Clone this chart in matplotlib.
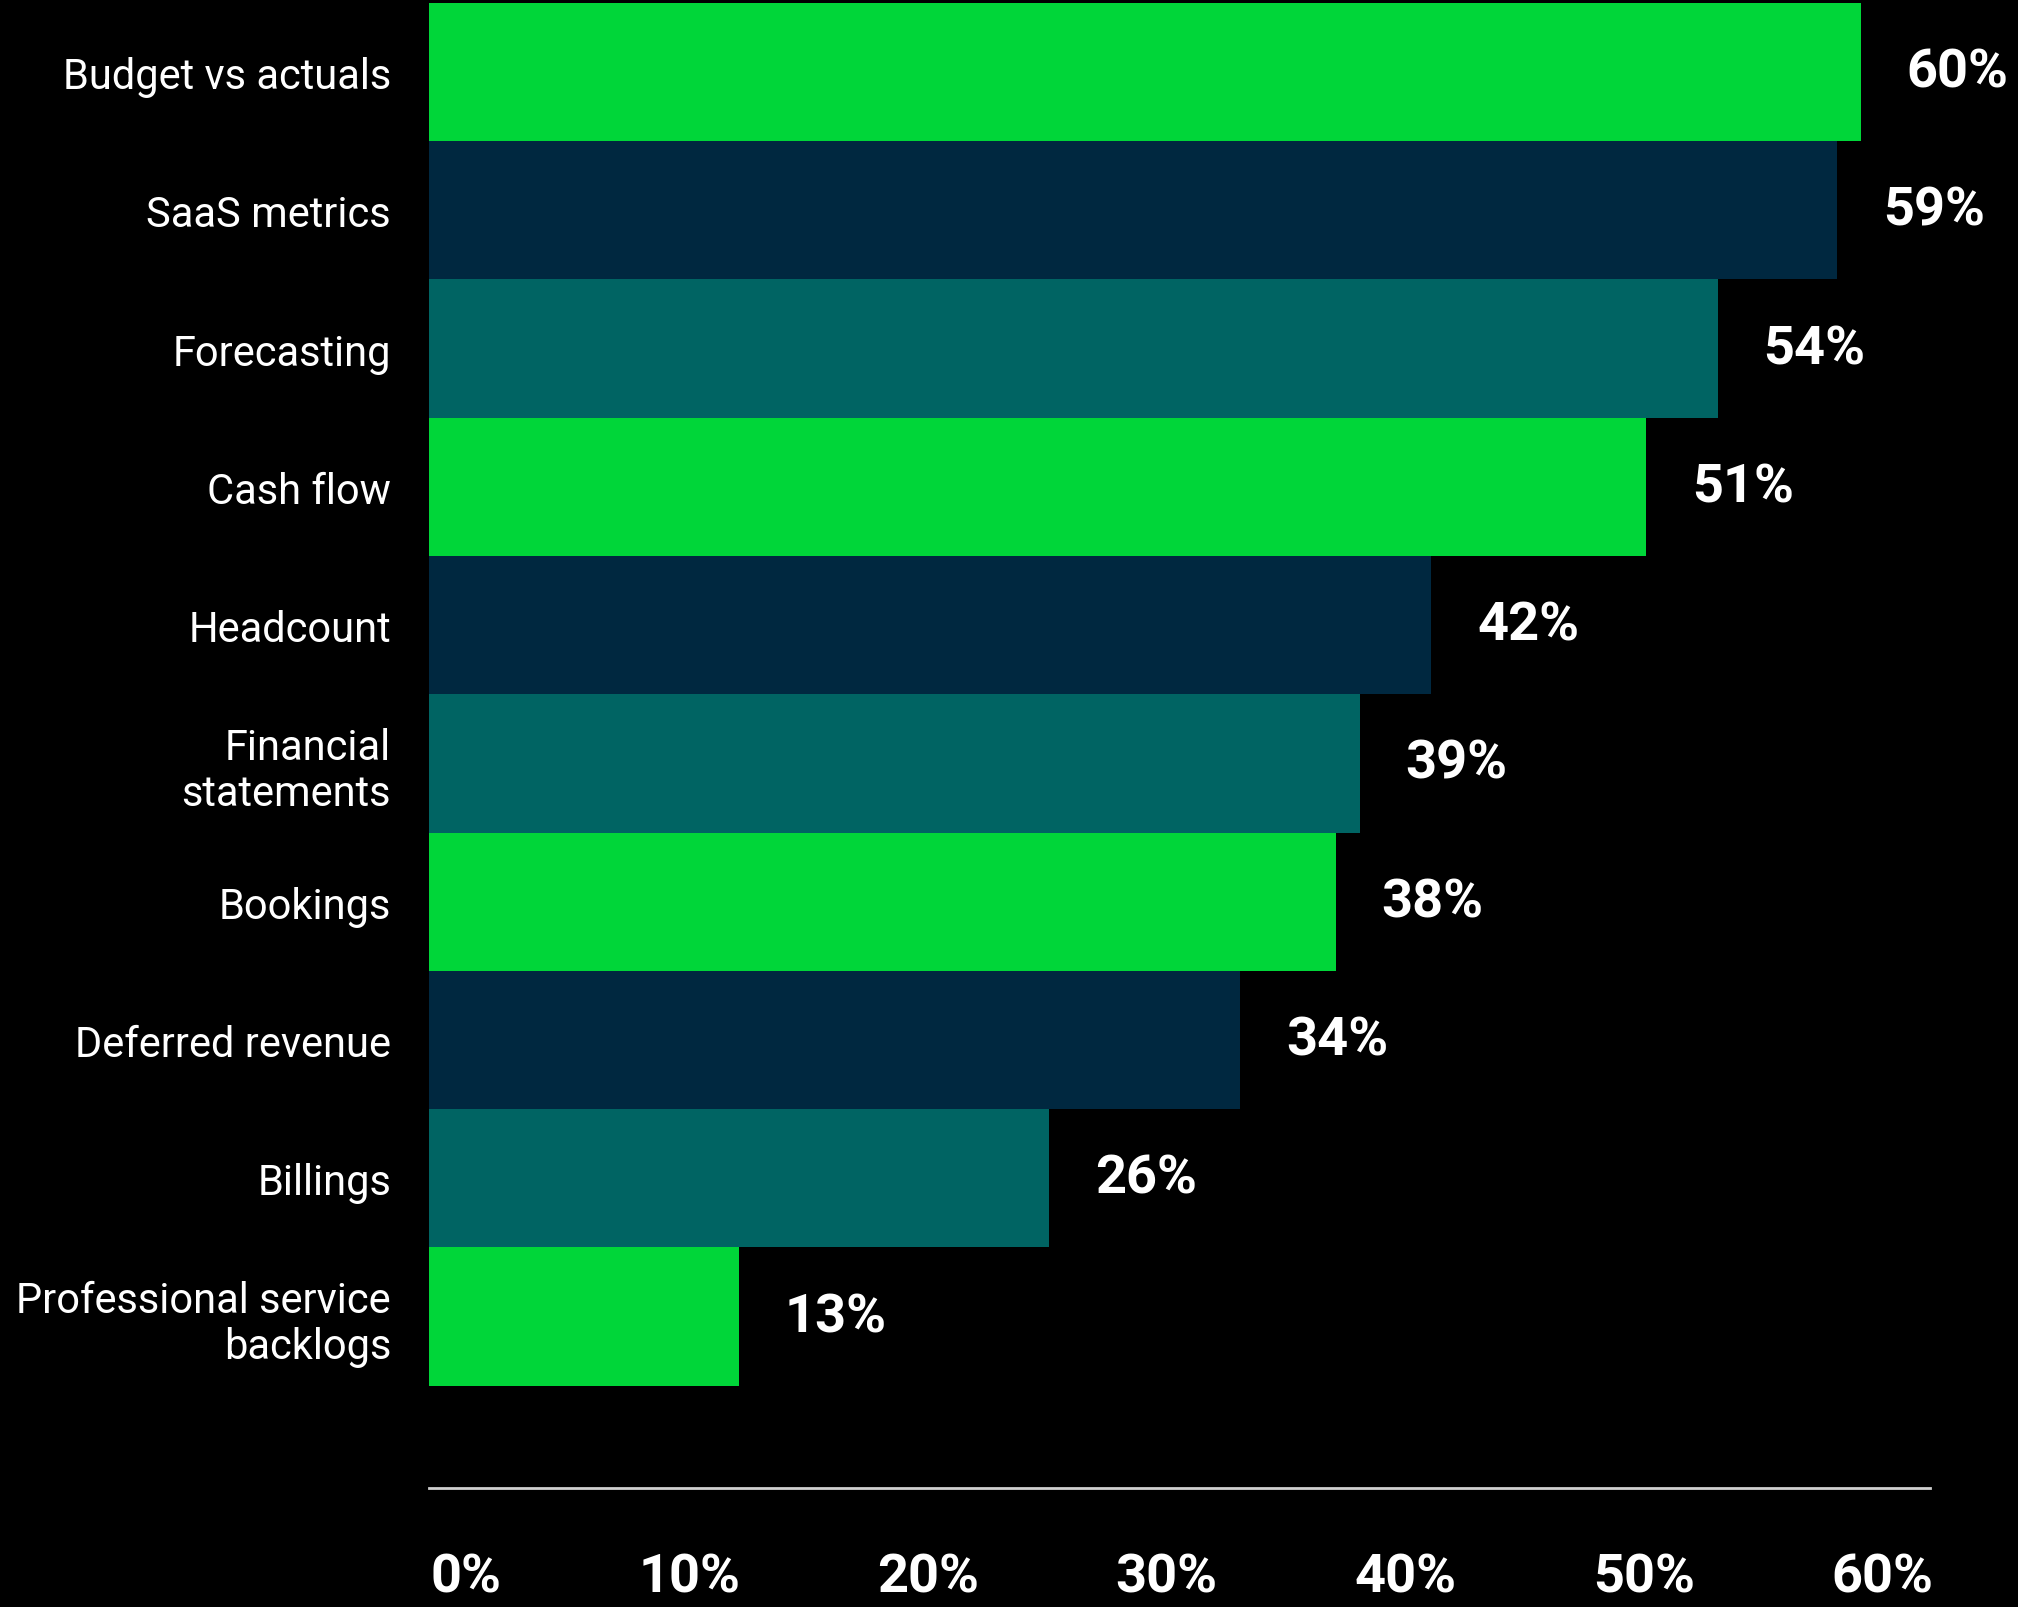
"""
Horizontal bar chart: share of finance teams tracking each report.
Writes out.png.
"""
import matplotlib.pyplot as plt
from matplotlib.transforms import ScaledTranslation

categories = ["Budget vs actuals", "SaaS metrics", "Forecasting", "Cash flow",
              "Headcount", "Financial\nstatements", "Bookings", "Deferred revenue",
              "Billings", "Professional service\nbacklogs"]
values = [60, 59, 54, 51, 42, 39, 38, 34, 26, 13]
tick_values = [0, 10, 20, 30, 40, 50, 60]
tick_labels = ["0%", "10%", "20%", "30%", "40%", "50%", "60%"]

GREEN = "#00d639"
NAVY = "#002840"
TEAL = "#006463"
bar_colors = [GREEN, NAVY, TEAL] * 3 + [GREEN]


def main():
    plt.rcParams['font.family'] = ['Roboto', 'DejaVu Sans']
    fig = plt.figure(figsize=(20.18, 16.08), dpi=100, facecolor="black")
    W, H = 2018, 1608
    left, right, top, bottom = 428.6, 1930, 3.9, 1489
    ax = fig.add_axes([left / W, (H - bottom) / H, (right - left) / W, (bottom - top) / H])
    ax.set_facecolor("black")

    y = list(range(len(categories)))
    ax.barh(y, values, height=1.0, color=bar_colors)
    ax.set_xlim(0, 62.9)
    ax.set_ylim(10.24, -0.5)

    for yi, v in zip(y, values):
        ax.annotate(f"{v}%", xy=(v, yi), xytext=(46, 0), textcoords="offset pixels",
                    ha="left", va="center", color="white", fontsize=39,
                    fontweight="bold", annotation_clip=False)

    ax.set_yticks(y)
    ax.set_yticklabels(categories, color="white", fontsize=30, linespacing=1.15)
    ax.tick_params(axis="y", length=0, pad=27)

    ax.set_xticks(tick_values)
    ax.set_xticklabels(tick_labels, color="white", fontsize=39, fontweight="bold")
    ax.tick_params(axis="x", length=0, pad=46)
    shift = ScaledTranslation(0.73, 0, fig.dpi_scale_trans)
    for lab in ax.get_xticklabels():
        lab.set_horizontalalignment("right")
        lab.set_transform(lab.get_transform() + shift)

    for side in ["top", "right", "left"]:
        ax.spines[side].set_visible(False)
    ax.spines["bottom"].set_color("#d0d0d0")
    ax.spines["bottom"].set_linewidth(2)

    fig.savefig("out.png", dpi=100, facecolor="black")


if __name__ == "__main__":
    main()
